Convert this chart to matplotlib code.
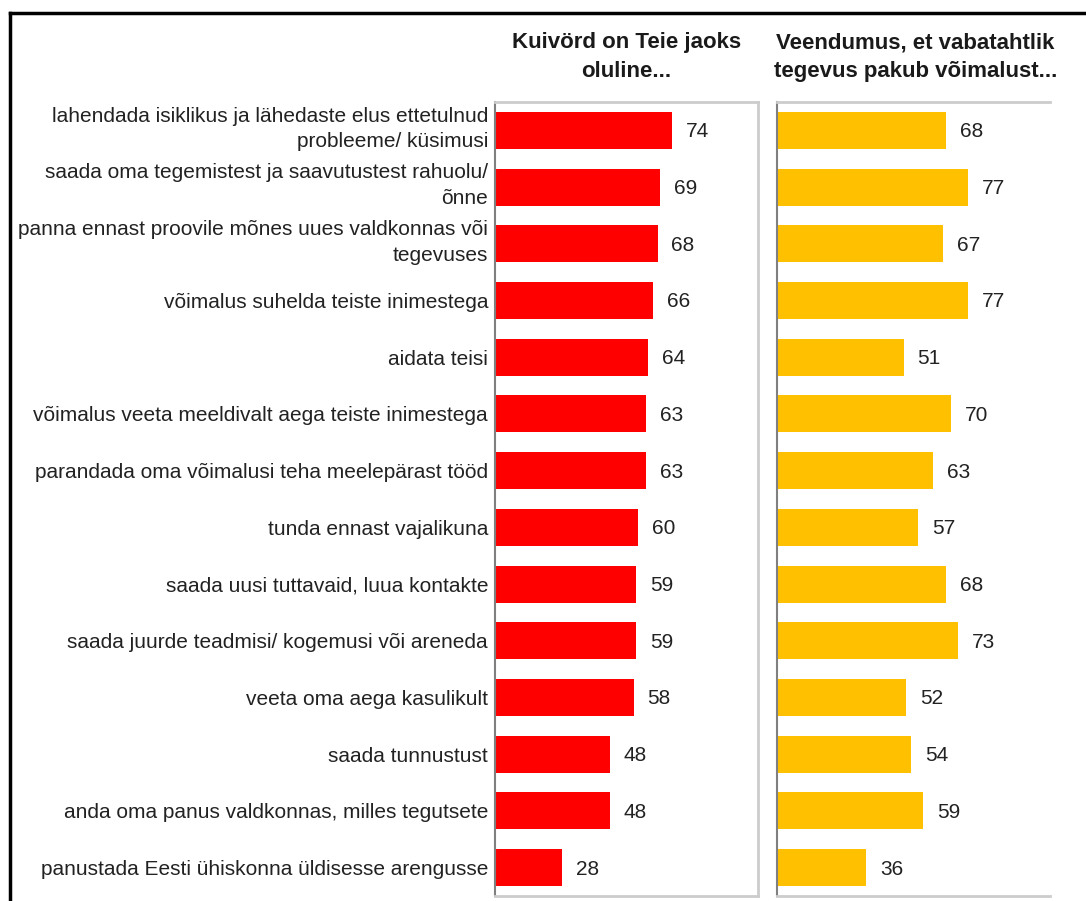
import matplotlib
matplotlib.use('Agg')
import numpy as np
import matplotlib.pyplot as plt
from matplotlib.lines import Line2D
from matplotlib.transforms import ScaledTranslation

plt.rcParams['font.family'] = ['Liberation Sans', 'DejaVu Sans']

labels = [
    'lahendada isiklikus ja lähedaste elus ettetulnud\nprobleeme/ küsimusi',
    'saada oma tegemistest ja saavutustest rahuolu/\nõnne',
    'panna ennast proovile mõnes uues valdkonnas või\ntegevuses',
    'võimalus suhelda teiste inimestega',
    'aidata teisi',
    'võimalus veeta meeldivalt aega teiste inimestega',
    'parandada oma võimalusi teha meelepärast tööd',
    'tunda ennast vajalikuna',
    'saada uusi tuttavaid, luua kontakte',
    'saada juurde teadmisi/ kogemusi või areneda',
    'veeta oma aega kasulikult',
    'saada tunnustust',
    'anda oma panus valdkonnas, milles tegutsete',
    'panustada Eesti ühiskonna üldisesse arengusse',
]
importance = [74, 69, 68, 66, 64, 63, 63, 60, 59, 59, 58, 48, 48, 28]
conviction = [68, 77, 67, 77, 51, 70, 63, 57, 68, 73, 52, 54, 59, 36]

titles = ['Kuivörd on Teie jaoks\noluline...',
          'Veendumus, et vabatahtlik\ntegevus pakub võimalust...']
colors = ['#FF0000', '#FFC000']

W, H = 1086, 901
fig = plt.figure(figsize=(W / 100, H / 100), dpi=100, facecolor='white')

# black frame (top and left edges visible)
fig.add_artist(Line2D([9.5 / W, 9.5 / W], [0, 1 - 13 / H], transform=fig.transFigure,
                      color='black', lw=2.5))
fig.add_artist(Line2D([9.5 / W, 1], [1 - 13 / H, 1 - 13 / H], transform=fig.transFigure,
                      color='black', lw=2.5))

y_top, y_bot = 1 - 102 / H, 1 - 896 / H
panels = [(495 / W, 758 / W), (777 / W, 1050 / W)]
y = np.arange(len(labels))

for k, (vals, (x0, x1)) in enumerate(zip([importance, conviction], panels)):
    ax = fig.add_axes([x0, y_bot, x1 - x0, y_top - y_bot])
    ax.barh(y, vals, height=0.65, color=colors[k], edgecolor='none')
    ax.set_xlim(0, 110)
    ax.set_ylim(len(labels) - 0.5, -0.5)
    ax.set_xticks([])
    ax.set_yticks([])
    if k == 0:
        # category labels, two-line ones sit slightly above the bar centre
        shift = ScaledTranslation(-5 / 72, 0, fig.dpi_scale_trans)
        for yi, lab in zip(y, labels):
            dy = -0.12 if '\n' in lab else 0
            ax.text(0, yi + dy, lab, ha='right', va='center_baseline', fontsize=15,
                    color='#222222', linespacing=1.45,
                    transform=ax.get_yaxis_transform() + shift)
    for yi, v in zip(y, vals):
        ax.annotate(str(v), (v, yi), xytext=(10, -1), textcoords='offset points',
                    va='center', ha='left', fontsize=15, color='#222222')
    ax.spines['left'].set_color('#808080')
    ax.spines['left'].set_linewidth(1.5)
    for s in ['top', 'right', 'bottom']:
        ax.spines[s].set_color('#cccccc')
        ax.spines[s].set_linewidth(2)
    if k == 1:
        ax.spines['right'].set_visible(False)
    fig.text((x0 + x1) / 2 if k == 0 else (x0 + x1) / 2 + 2 / W, 1 - 57 / H, titles[k],
             ha='center', va='center', fontsize=16, fontweight='bold',
             color='#1a1a1a', linespacing=1.5)

fig.savefig('out.png', dpi=100, facecolor='white')
